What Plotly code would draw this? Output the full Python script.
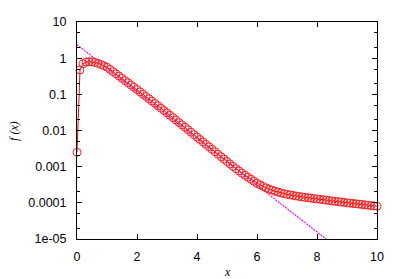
import plotly.graph_objects as go

# data
x_vals = [round(i * 0.1, 1) for i in range(101)]
f_vals = [
    0.0025, 0.47, 0.70, 0.78, 0.80, 0.79, 0.76, 0.72, 0.67, 0.62,
    0.56, 0.49, 0.425, 0.37, 0.32, 0.278, 0.241, 0.209, 0.181, 0.157,
    0.136, 0.117, 0.101, 0.0875, 0.0755, 0.065, 0.056, 0.0482, 0.0414, 0.0356,
    0.0306, 0.0263, 0.0226, 0.0194, 0.0166, 0.0143, 0.0123, 0.0105, 0.0090, 0.0077,
    0.0066, 0.00565, 0.00484, 0.00414, 0.00354, 0.00303, 0.00259, 0.00221, 0.00189, 0.00162,
    0.00139, 0.00119, 0.00102, 0.00088, 0.00076, 0.00066, 0.00058, 0.00051, 0.00045, 0.000395,
    0.00035, 0.000315, 0.000285, 0.00026, 0.00024, 0.000225, 0.00021, 0.000198, 0.000188, 0.000179,
    0.000172, 0.000166, 0.00016, 0.000155, 0.00015, 0.000146, 0.000142, 0.000138, 0.000135, 0.000131,
    0.000128, 0.000125, 0.000122, 0.000119, 0.000116, 0.000113, 0.00011, 0.000108, 0.000105, 0.000103,
    0.0001, 0.000098, 0.000096, 0.000094, 0.000092, 0.00009, 0.000088, 0.000086, 0.000084, 0.000082,
    0.00008,
]
fit_x = [0, 10]
fit_y = [2.37, 7.9e-7]

y_tickvals = [1e-5, 1e-4, 1e-3, 1e-2, 0.1, 1, 10]
y_ticktext = ['1e-05', '0.0001', '0.001', '0.01', '0.1', '1', '10']
x_tickvals = [0, 2, 4, 6, 8, 10]

fig = go.Figure()

fig.add_trace(go.Scatter(
    x=fit_x, y=fit_y, mode='lines',
    line=dict(color='#ff00ff', width=1.2, dash='2px,1px'),
))
fig.add_trace(go.Scatter(
    x=x_vals, y=f_vals, mode='lines+markers',
    line=dict(color='#ff0000', width=1),
    marker=dict(symbol='circle-open', size=8, color='#ff2020', line=dict(width=1)),
    cliponaxis=False,
))

axis_common = dict(
    showgrid=False, zeroline=False, showline=True, mirror='allticks',
    linecolor='black', linewidth=1, ticks='inside', tickcolor='black',
    ticklen=5, tickfont=dict(family='Liberation Sans', size=12.5, color='black'),
)

fig.update_xaxes(range=[0, 10], tickvals=x_tickvals, ticklabelstandoff=6, **axis_common)
fig.update_yaxes(
    type='log', range=[-5, 1], tickvals=y_tickvals, ticktext=y_ticktext,
    ticklabelstandoff=7,
    minor=dict(ticks='inside', ticklen=3, tickcolor='black', showgrid=False),
    **axis_common,
)

fig.add_annotation(
    text='f (x)', xref='paper', yref='paper', x=-0.212, y=0.5,
    xanchor='center', yanchor='middle',
    showarrow=False, textangle=-90,
    font=dict(family='Liberation Serif', size=12, color='black', style='italic'),
)
fig.add_annotation(
    text='x', xref='paper', yref='paper', x=0.5, y=-0.152,
    xanchor='center', yanchor='middle',
    showarrow=False,
    font=dict(family='Liberation Serif', size=12, color='black', style='italic'),
)

# page body adds an 8px offset, so the figure is sized to fit the window
fig.update_layout(
    width=391, height=271,
    margin=dict(l=69, r=22, t=7, b=40),
    showlegend=False,
    plot_bgcolor='white', paper_bgcolor='white',
)

fig.write_html("out.html")
